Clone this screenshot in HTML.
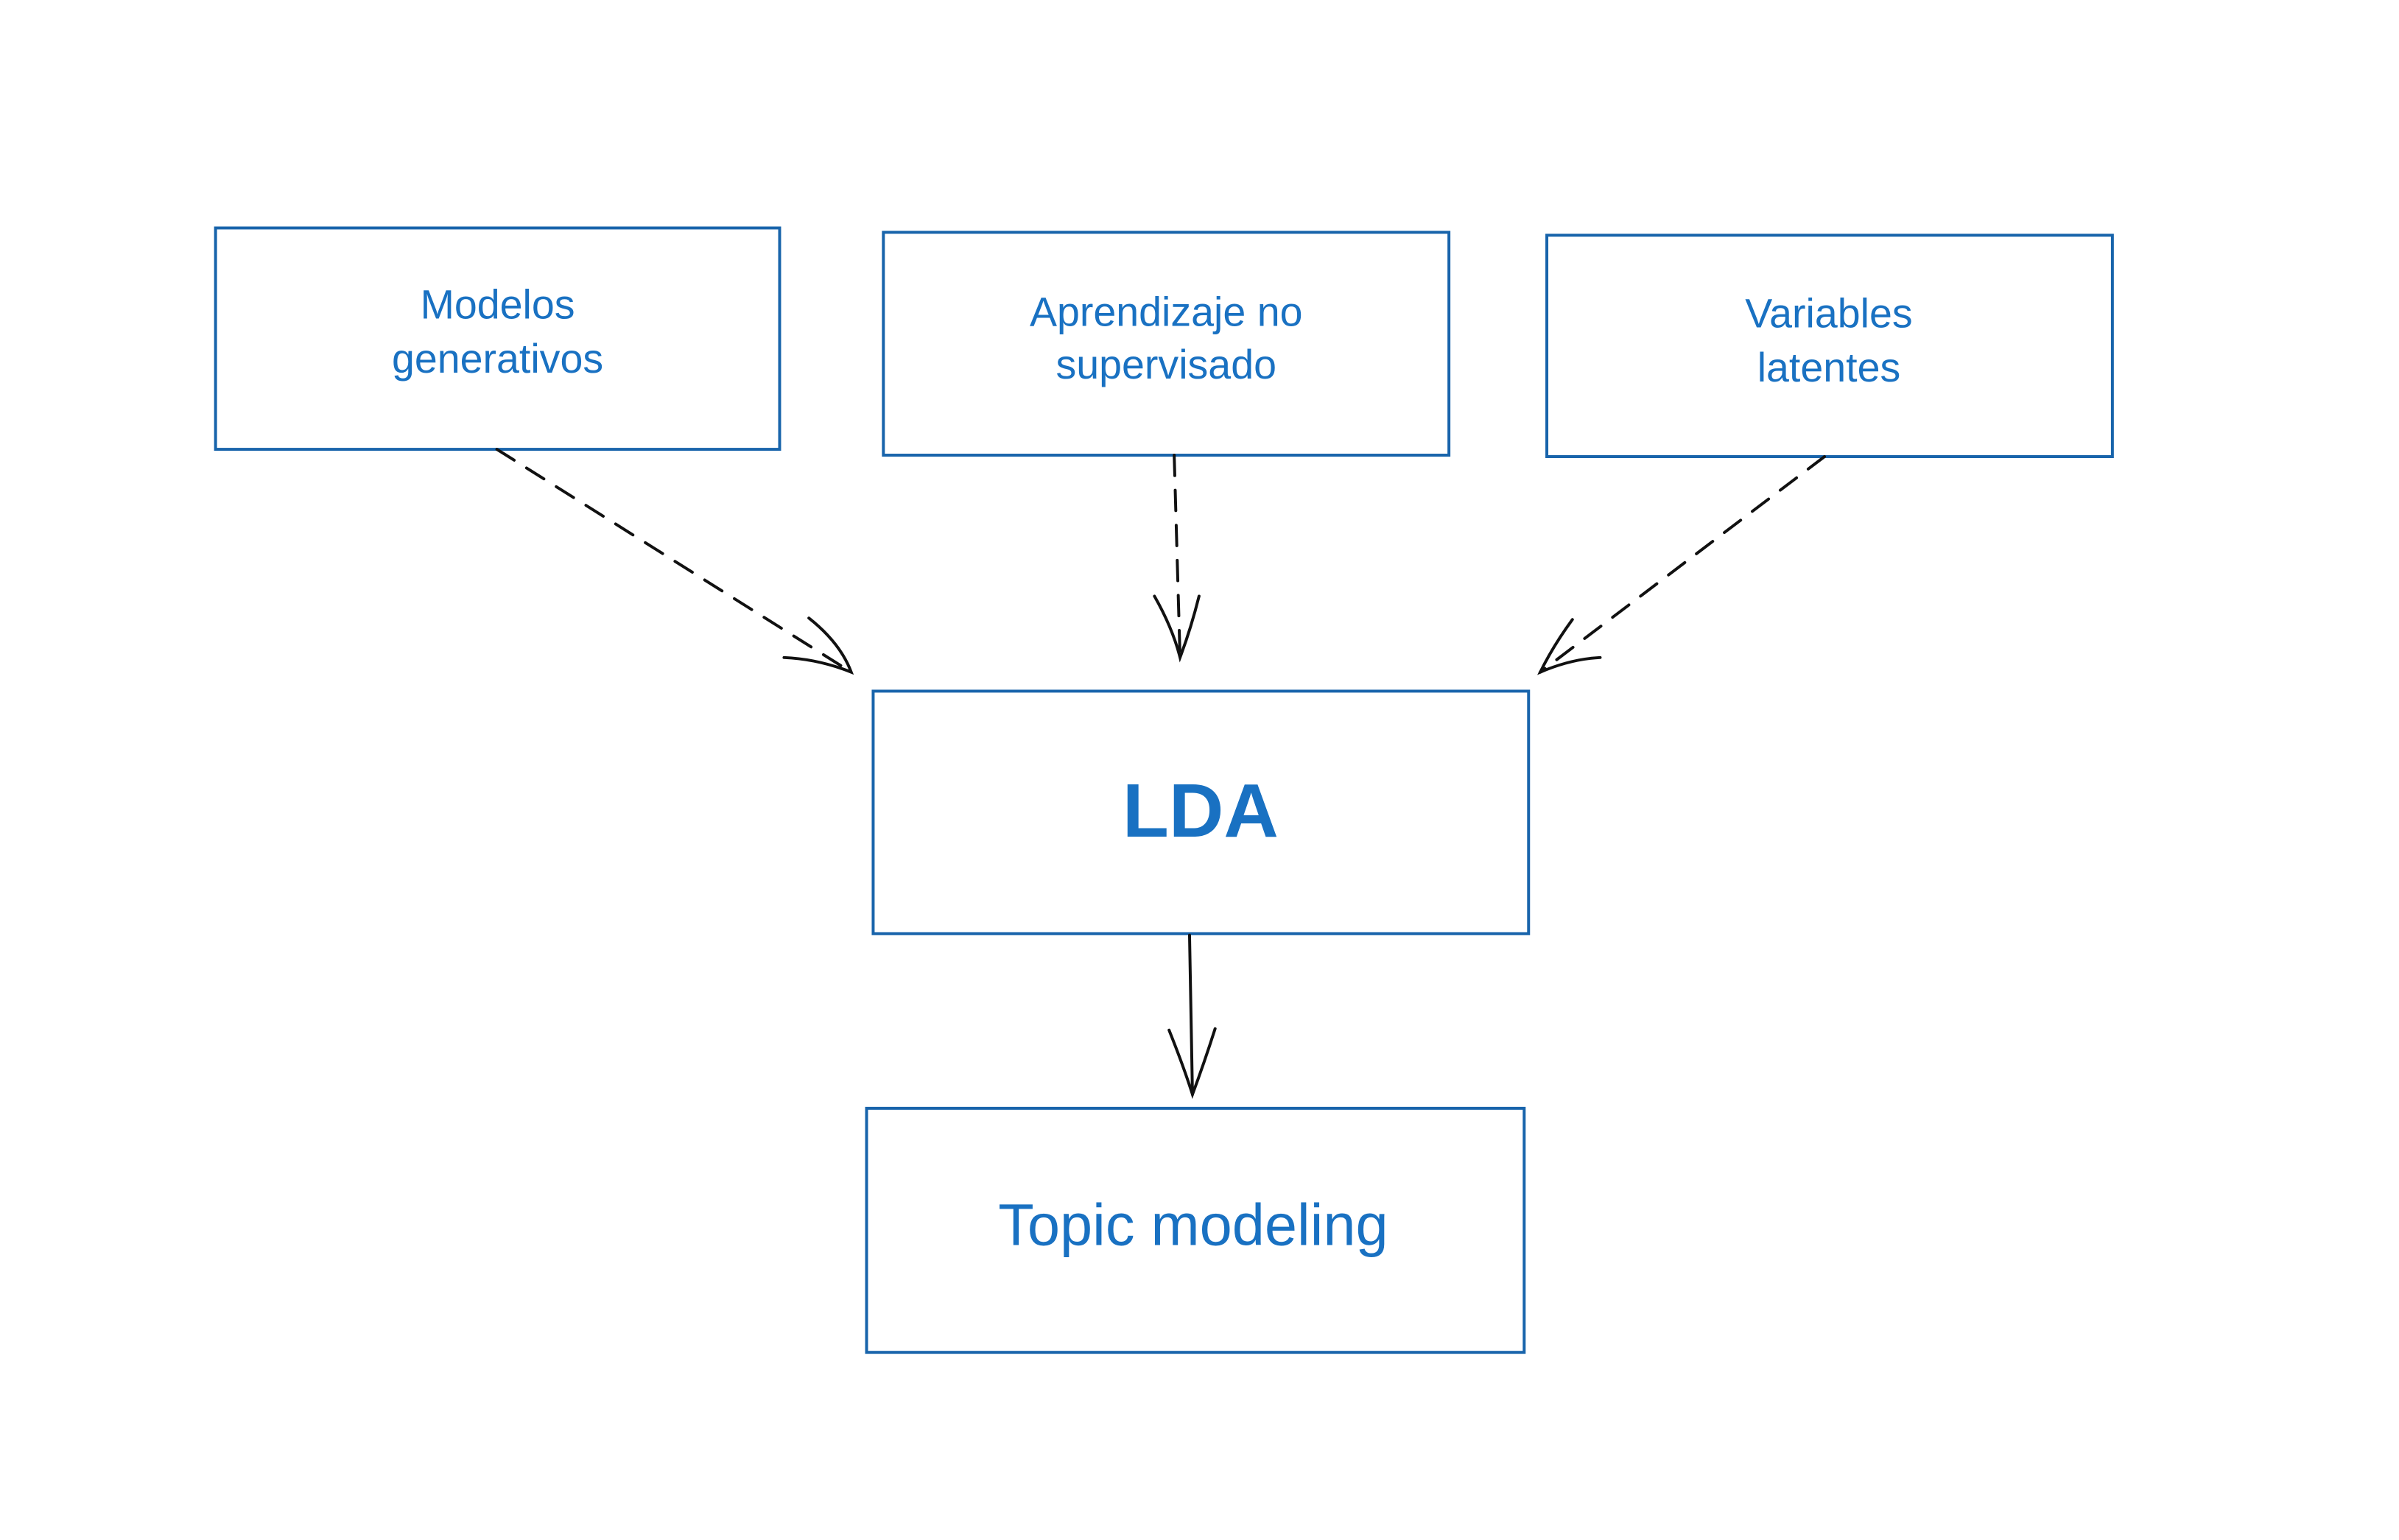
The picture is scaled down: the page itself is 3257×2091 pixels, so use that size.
<!DOCTYPE html>
<html><head><style>
html,body{margin:0;padding:0;background:#fff;}
body{width:3257px;height:2091px;position:relative;overflow:hidden;}
svg{position:absolute;left:0;top:0;}
text{font-family:"Liberation Sans",sans-serif;fill:#1971c2;text-anchor:middle;}
</style></head><body>
<svg width="3257" height="2091" viewBox="0 0 3257 2091">
<g transform="scale(0.992)">
<g fill="none" stroke="#1864ab" stroke-width="4">
<rect x="295" y="312" width="772" height="303"/>
<rect x="1209" y="318" width="774" height="305"/>
<rect x="2117" y="322" width="774" height="303"/>
<rect x="1195" y="946" width="897" height="332"/>
<rect x="1186" y="1517" width="900" height="334"/>
</g>
<g fill="none" stroke="#111" stroke-width="4" stroke-linecap="round">
<path d="M680 615 L1165 920" stroke-dasharray="28 20"/>
<path d="M1107 846 Q1150 880 1165 920 Q1120 902 1073 900"/>
<path d="M1607 623 L1615 900" stroke-dasharray="28 20"/>
<path d="M1580 816 Q1605 860 1615 900 Q1630 860 1641 816"/>
<path d="M2497 625 L2108 920" stroke-dasharray="28 20"/>
<path d="M2152 848 Q2125 885 2108 920 Q2150 902 2190 900"/>
<path d="M1628 1280 L1632 1498"/>
<path d="M1600 1410 Q1620 1460 1632 1498 Q1648 1455 1663 1408"/>
</g>
<text x="681" y="436" font-size="56">Modelos</text>
<text x="681" y="510" font-size="56">generativos</text>
<text x="1596" y="446" font-size="56">Aprendizaje no</text>
<text x="1596" y="518" font-size="56">supervisado</text>
<text x="2503" y="448" font-size="56">Variables</text>
<text x="2503" y="522" font-size="56">latentes</text>
<text x="1643" y="1145" font-size="104" font-weight="bold">LDA</text>
<text x="1633" y="1704" font-size="80">Topic modeling</text>
</g>
</svg>
</body></html>
